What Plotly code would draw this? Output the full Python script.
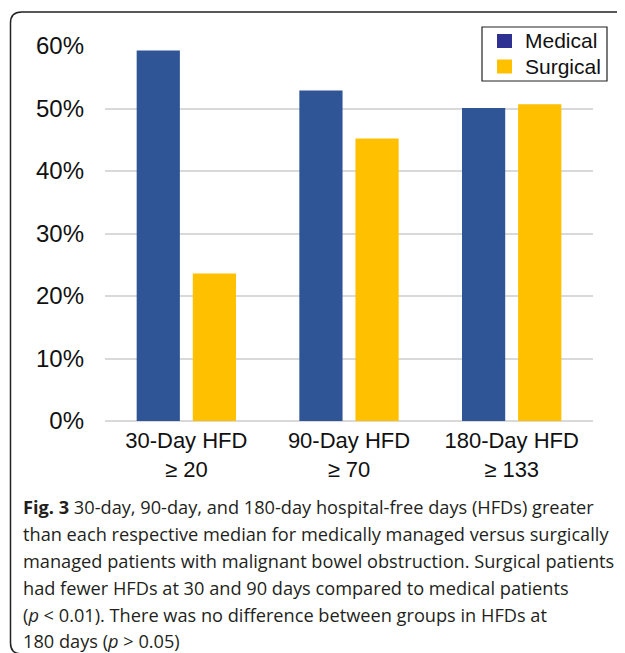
import plotly.graph_objects as go

# ---- data ----
categories = ["30-Day HFD<br>≥ 20", "90-Day HFD<br>≥ 70", "180-Day HFD<br>≥ 133"]
medical = [0.593, 0.529, 0.501]
surgical = [0.236, 0.452, 0.507]
series_names = ["Medical", "Surgical"]
legend_colors = ["#2E3192", "#FFC000"]
caption_lines = [
    "<b>Fig. 3</b> 30-day, 90-day, and 180-day hospital-free days (HFDs) greater",
    "than each respective median for medically managed versus surgically",
    "managed patients with malignant bowel obstruction. Surgical patients",
    "had fewer HFDs at 30 and 90 days compared to medical patients",
    "(<i>p</i> < 0.01). There was no difference between groups in HFDs at",
    "180 days (<i>p</i> > 0.05)",
]

OFF = 8  # page body margin offset
W, H = 625, 653
# plot area measured in page pixels: x 105..593, y 46..421
L = 105 - OFF
T = 46 - OFF
PW = 593 - 105
PH = 421 - 46
R = W - L - PW
B = H - T - PH

def px(x):
    return (x - OFF - L) / PW

def py(y):
    return (T + PH - (y - OFF)) / PH

BLUE = "#2F5597"
GOLD = "#FFC000"

fig = go.Figure()
fig.add_trace(go.Bar(x=categories, y=medical, name=series_names[0],
                     marker=dict(color=BLUE, line=dict(width=0)), showlegend=False))
fig.add_trace(go.Bar(x=categories, y=surgical, name=series_names[1],
                     marker=dict(color=GOLD, line=dict(width=0)), showlegend=False))

x_font = dict(family="Liberation Sans, Arial, sans-serif", size=22, color="#111")
y_font = dict(family="Liberation Sans, Arial, sans-serif", size=24, color="#111")

fig.update_layout(
    width=W, height=H,
    margin=dict(l=L, r=R, t=T, b=B, autoexpand=False),
    paper_bgcolor="white", plot_bgcolor="white",
    barmode="group", bargap=0.31, bargroupgap=0.23,
    showlegend=False,
    xaxis=dict(type="category", tickfont=x_font, showgrid=False, showline=False,
               ticks="", ticklabelstandoff=4),
    yaxis=dict(range=[0, 0.6], dtick=0.1, tickformat=".0%", tickfont=y_font,
               showgrid=True, gridcolor="#D9D9D9", gridwidth=1.5,
               zeroline=True, zerolinecolor="#D9D9D9", zerolinewidth=1.5,
               showline=False, ticks="", ticklabelstandoff=20),
)

# legend box (page pixel coords)
fig.add_shape(type="rect", xref="paper", yref="paper",
              x0=px(482), x1=px(607), y0=py(81), y1=py(27),
              line=dict(color="#222", width=1.2), fillcolor="white", layer="above")
for i, (name, col) in enumerate(zip(series_names, legend_colors)):
    cy = 41 + i * 25.5
    fig.add_shape(type="rect", xref="paper", yref="paper",
                  x0=px(497), x1=px(512), y0=py(cy + 7), y1=py(cy - 7),
                  line=dict(width=0), fillcolor=col, layer="above")
    fig.add_annotation(text=name, xref="paper", yref="paper", x=px(523), y=py(cy),
                       xanchor="left", yanchor="middle", showarrow=False,
                       font=dict(family="Liberation Sans, Arial, sans-serif", size=21, color="#111"))

# caption
ys = [507, 534, 561, 588, 615, 641]
for txt, yy in zip(caption_lines, ys):
    fig.add_annotation(text=txt, xref="paper", yref="paper", x=px(21), y=py(yy),
                       xanchor="left", yanchor="middle", showarrow=False, align="left",
                       font=dict(family="Open Sans, sans-serif", size=18.2, color="#231F20"))

# frame
r = 11
fx, ft, fb = 10.5, 12, 654
path = (f"M {px(660)},{py(ft)} L {px(fx + r)},{py(ft)} "
        f"Q {px(fx)},{py(ft)} {px(fx)},{py(ft + r)} "
        f"L {px(fx)},{py(fb - r)} Q {px(fx)},{py(fb)} {px(fx + r)},{py(fb)} "
        f"L {px(660)},{py(fb)}")
fig.add_shape(type="path", path=path, xref="paper", yref="paper",
              line=dict(color="#222", width=1.5), layer="above")

fig.write_html("out.html")
